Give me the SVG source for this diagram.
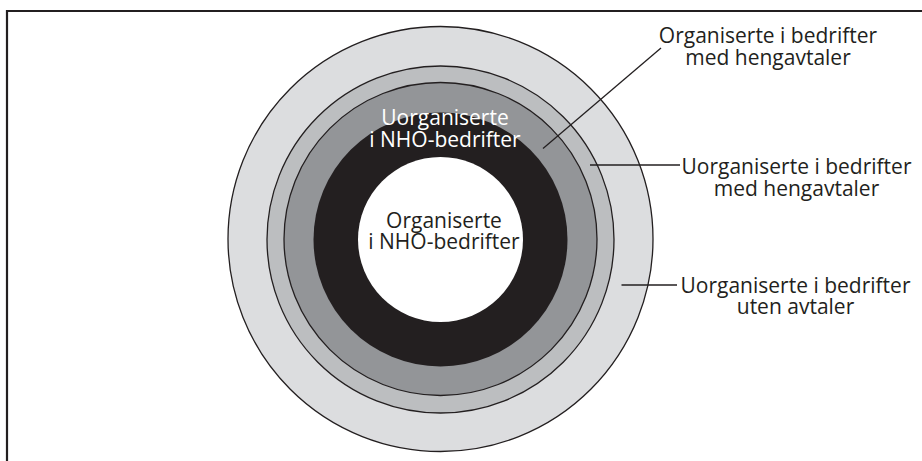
<svg xmlns="http://www.w3.org/2000/svg" width="922" height="461" viewBox="0 0 922 461">
<style>
.ring{stroke:#231f20;stroke-width:1.3}
.lbl{font-family:"Open Sans","Liberation Sans",sans-serif;font-size:21px;fill:#231f20;text-anchor:middle}
.wlbl{fill:#ffffff}
.conn{stroke:#231f20;stroke-width:1.3;fill:none}
.frame{stroke:#231f20;stroke-width:2.2;fill:none}
</style>
<rect width="922" height="461" fill="#ffffff"/>
<path class="frame" d="M7,461 V11 H922"/>
<g id="ring-uten-avtaler"><circle class="ring" cx="440.5" cy="239" r="212.5" fill="#dcdddf"/></g>
<g id="ring-uorg-heng"><circle class="ring" cx="440.5" cy="239.5" r="173.5" fill="#bcbec0"/></g>
<g id="ring-org-heng"><circle class="ring" cx="440.5" cy="239" r="156.5" fill="#939598"/></g>
<g id="ring-uorg-nho"><circle cx="440.5" cy="239.5" r="127" fill="#231f20"/>
<text class="lbl wlbl" x="445" y="125">Uorganiserte<tspan x="445" dy="22">i NHO-bedrifter</tspan></text></g>
<g id="core-org-nho"><circle cx="440.5" cy="239.5" r="82.5" fill="#ffffff"/>
<text class="lbl" x="444" y="227.5">Organiserte<tspan x="444" dy="21">i NHO-bedrifter</tspan></text></g>
<g id="label-org-heng"><text class="lbl" x="768" y="43">Organiserte i bedrifter<tspan x="768" dy="22">med hengavtaler</tspan></text></g>
<g id="label-uorg-heng"><text class="lbl" x="796.5" y="174">Uorganiserte i bedrifter<tspan x="796.5" dy="22">med hengavtaler</tspan></text></g>
<g id="label-uten"><text class="lbl" x="795.5" y="292.5">Uorganiserte i bedrifter<tspan x="795.5" dy="21.5">uten avtaler</tspan></text></g>
<g id="connectors">
<line class="conn" x1="661" y1="48" x2="543" y2="148.5"/>
<line class="conn" x1="590" y1="165" x2="680" y2="165"/>
<line class="conn" x1="621.5" y1="285" x2="677" y2="285"/>
</g>
</svg>
